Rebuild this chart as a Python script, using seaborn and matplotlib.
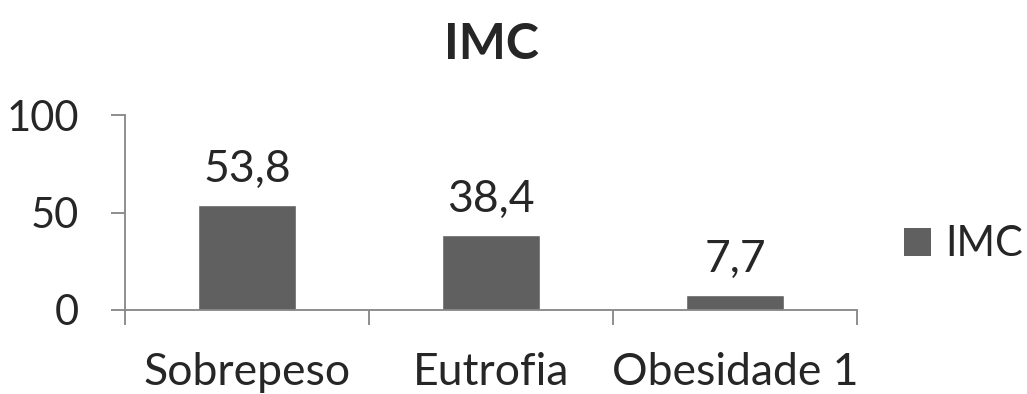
import matplotlib
matplotlib.use('Agg')
import matplotlib.pyplot as plt
import seaborn as sns
from matplotlib.patches import Patch

# Data
categorias = ['Sobrepeso', 'Eutrofia', 'Obesidade 1']
valores = [53.8, 38.4, 7.7]
rotulos = ['53,8', '38,4', '7,7']
serie = 'IMC'

sns.set_style('white')
plt.rcParams['font.family'] = ['Lato', 'DejaVu Sans']

BAR_COLOR = '#606060'
AXIS_COLOR = '#868686'
FS = 32

fig = plt.figure(figsize=(10.27, 3.94), dpi=100)
ax = fig.add_axes([0.1217, 0.2132, 0.7128, 0.4949])

sns.barplot(x=categorias, y=valores, color=BAR_COLOR, width=0.4,
            saturation=1, ax=ax)

ax.set_xlim(-0.5, 2.5)
ax.set_ylim(0, 100)
ax.set_yticks([0, 50, 100])

# value labels
ax.bar_label(ax.containers[0], labels=rotulos, padding=11, fontsize=FS)

# axes styling
for side in ['top', 'right']:
    ax.spines[side].set_visible(False)
for side in ['left', 'bottom']:
    ax.spines[side].set_color(AXIS_COLOR)
    ax.spines[side].set_linewidth(1.3)

ax.tick_params(axis='y', which='major', length=10, width=1.3, color=AXIS_COLOR,
               labelsize=30, pad=23, left=True)
ax.tick_params(axis='x', which='major', length=0, labelsize=FS, pad=30)
ax.set_xticks([-0.5, 0.5, 1.5, 2.5], minor=True)
ax.tick_params(axis='x', which='minor', length=11, width=1.3, color=AXIS_COLOR,
               bottom=True)

ax.set_title('IMC', fontsize=36, fontweight='bold', pad=40)

handles = [Patch(facecolor=BAR_COLOR, edgecolor='none', label=serie)]
fig.legend(handles=handles, loc='center left', bbox_to_anchor=(0.880, 0.38),
           frameon=False, fontsize=30, handlelength=0.65, handleheight=0.65,
           handletextpad=0.35, borderaxespad=0, borderpad=0)

fig.savefig('out.png', dpi=100)
